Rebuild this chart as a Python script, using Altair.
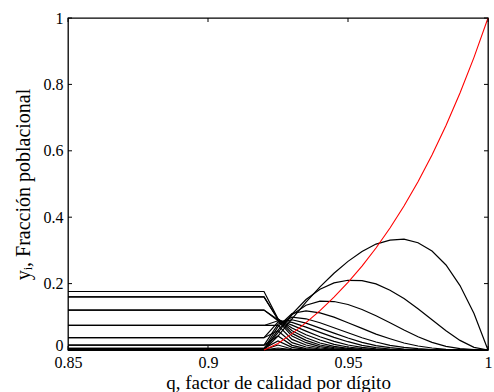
import altair as alt
import pandas as pd

# ---- data ----
q_flat = [0.85, 0.92]
q_grid = [0.925, 0.93, 0.935, 0.94, 0.945, 0.95, 0.955, 0.96,
          0.965, 0.97, 0.975, 0.98, 0.985, 0.99, 0.995, 1.0]

# plateau levels below the error threshold (classes 1..20)
flat_levels = [0.00002, 0.00018, 0.0011, 0.0046, 0.0148, 0.0370, 0.0739,
               0.1201, 0.1602, 0.1762, 0.1602, 0.1201, 0.0739, 0.0370,
               0.0148, 0.0046, 0.0011, 0.00018, 0.00002, 0.0]

y01 = [0.042, 0.094, 0.144, 0.190, 0.231, 0.267, 0.297, 0.319, 0.331, 0.334, 0.323, 0.298, 0.256, 0.194, 0.110, 0.0]
y02 = [0.052, 0.108, 0.152, 0.183, 0.202, 0.210, 0.209, 0.199, 0.180, 0.155, 0.124, 0.091, 0.058, 0.029, 0.008, 0.0]
y03 = [0.060, 0.106, 0.135, 0.147, 0.146, 0.137, 0.122, 0.103, 0.082, 0.060, 0.040, 0.023, 0.011, 0.004, 0.001, 0.0]
y04 = [0.070, 0.110, 0.118, 0.112, 0.099, 0.082, 0.065, 0.048, 0.034, 0.021, 0.012, 0.006, 0.002, 0.001, 0.0, 0.0]
y05 = [0.078, 0.099, 0.094, 0.082, 0.067, 0.052, 0.037, 0.024, 0.014, 0.008, 0.004, 0.001, 0.0, 0.0, 0.0, 0.0]
y06 = [0.084, 0.091, 0.081, 0.066, 0.051, 0.036, 0.023, 0.013, 0.007, 0.003, 0.001, 0.0, 0.0, 0.0, 0.0, 0.0]
y07 = [0.088, 0.083, 0.069, 0.053, 0.038, 0.025, 0.014, 0.007, 0.003, 0.001, 0.0, 0.0, 0.0, 0.0, 0.0, 0.0]
y08 = [0.091, 0.075, 0.057, 0.040, 0.026, 0.015, 0.008, 0.0035, 0.0014, 0.0005, 0.0, 0.0, 0.0, 0.0, 0.0, 0.0]
y09 = [0.093, 0.066, 0.046, 0.030, 0.017, 0.009, 0.004, 0.0015, 0.0005, 0.0, 0.0, 0.0, 0.0, 0.0, 0.0, 0.0]
y10 = [0.094, 0.058, 0.037, 0.021, 0.011, 0.005, 0.002, 0.0006, 0.0, 0.0, 0.0, 0.0, 0.0, 0.0, 0.0, 0.0]
y11 = [0.092, 0.050, 0.029, 0.015, 0.007, 0.003, 0.001, 0.0, 0.0, 0.0, 0.0, 0.0, 0.0, 0.0, 0.0, 0.0]
y12 = [0.088, 0.042, 0.022, 0.010, 0.004, 0.0015, 0.0005, 0.0, 0.0, 0.0, 0.0, 0.0, 0.0, 0.0, 0.0, 0.0]
y13 = [0.074, 0.032, 0.015, 0.006, 0.002, 0.0007, 0.0, 0.0, 0.0, 0.0, 0.0, 0.0, 0.0, 0.0, 0.0, 0.0]
y14 = [0.058, 0.022, 0.009, 0.003, 0.001, 0.0, 0.0, 0.0, 0.0, 0.0, 0.0, 0.0, 0.0, 0.0, 0.0, 0.0]
y15 = [0.042, 0.014, 0.004, 0.0012, 0.0, 0.0, 0.0, 0.0, 0.0, 0.0, 0.0, 0.0, 0.0, 0.0, 0.0, 0.0]
y16 = [0.027, 0.008, 0.002, 0.0, 0.0, 0.0, 0.0, 0.0, 0.0, 0.0, 0.0, 0.0, 0.0, 0.0, 0.0, 0.0]
y17 = [0.015, 0.003, 0.001, 0.0, 0.0, 0.0, 0.0, 0.0, 0.0, 0.0, 0.0, 0.0, 0.0, 0.0, 0.0, 0.0]
y18 = [0.006, 0.001, 0.0, 0.0, 0.0, 0.0, 0.0, 0.0, 0.0, 0.0, 0.0, 0.0, 0.0, 0.0, 0.0, 0.0]
y19 = [0.002, 0.0, 0.0, 0.0, 0.0, 0.0, 0.0, 0.0, 0.0, 0.0, 0.0, 0.0, 0.0, 0.0, 0.0, 0.0]
y20 = [0.0005, 0.0, 0.0, 0.0, 0.0, 0.0, 0.0, 0.0, 0.0, 0.0, 0.0, 0.0, 0.0, 0.0, 0.0, 0.0]

master_q = [0.92] + q_grid
master_y = [0.0, 0.0196, 0.0492, 0.0823, 0.1186, 0.159, 0.2036, 0.2528, 0.3072,
            0.3673, 0.4336, 0.5068, 0.5873, 0.6761, 0.7739, 0.8815, 1.0]

x_ticks = [0.85, 0.9, 0.95, 1.0]
y_ticks = [0.0, 0.2, 0.4, 0.6, 0.8, 1.0]

x_title = "q, factor de calidad por dígito"
y_title = "yᵢ, Fracción poblacional"

# ---- build tables ----
classes = [y01, y02, y03, y04, y05, y06, y07, y08, y09, y10,
           y11, y12, y13, y14, y15, y16, y17, y18, y19, y20]
rows = []
for k, (lvl, vals) in enumerate(zip(flat_levels, classes), start=1):
    order = 0
    for q in q_flat:
        rows.append({"q": q, "y": lvl, "serie": f"y{k}", "o": order}); order += 1
    for q, v in zip(q_grid, vals):
        rows.append({"q": q, "y": v, "serie": f"y{k}", "o": order}); order += 1
df_black = pd.DataFrame(rows)
df_red = pd.DataFrame({"q": master_q, "y": master_y, "o": list(range(len(master_q)))})
df_xt = pd.DataFrame({"v": x_ticks})
df_yt = pd.DataFrame({"v": y_ticks})

W, H = 420, 332
FONT = "Liberation Serif"

xs = alt.Scale(domain=[0.85, 1.0], nice=False, zero=False)
ys = alt.Scale(domain=[0.0, 1.0], nice=False, zero=False)

x_axis = alt.Axis(values=x_ticks, format="~g", title=x_title, ticks=False, domain=False,
                  grid=False, labelFont=FONT, labelFontSize=16, labelColor="black",
                  labelPadding=4, titleFont=FONT, titleFontSize=19, titleFontWeight="normal",
                  titleColor="black", titlePadding=3, labelFlush=False)
y_axis = alt.Axis(values=y_ticks, format="~g", title=y_title, ticks=False, domain=False,
                  grid=False, labelFont=FONT, labelFontSize=16, labelColor="black",
                  labelPadding=5, titleFont=FONT, titleFontSize=20, titleFontWeight="normal",
                  titleColor="black", titlePadding=10, labelFlush=False,
                  labelOffset={"condition": {"test": "datum.value == 0", "value": -5}, "value": 0})

black = alt.Chart(df_black).mark_line(color="black", strokeWidth=1.2).encode(
    x=alt.X("q:Q", scale=xs, axis=x_axis),
    y=alt.Y("y:Q", scale=ys, axis=y_axis),
    detail="serie:N",
    order="o:Q",
)
red = alt.Chart(df_red).mark_line(color="#ff0000", strokeWidth=1.1).encode(
    x=alt.X("q:Q", scale=xs),
    y=alt.Y("y:Q", scale=ys),
    order="o:Q",
)

tk = 4
t_bottom = alt.Chart(df_xt).mark_rule(color="black", strokeWidth=1).encode(
    x=alt.X("v:Q", scale=xs), y=alt.value(H), y2=alt.value(H - tk))
t_top = alt.Chart(df_xt).mark_rule(color="black", strokeWidth=1).encode(
    x=alt.X("v:Q", scale=xs), y=alt.value(0), y2=alt.value(tk))
t_left = alt.Chart(df_yt).mark_rule(color="black", strokeWidth=1).encode(
    y=alt.Y("v:Q", scale=ys), x=alt.value(0), x2=alt.value(tk))
t_right = alt.Chart(df_yt).mark_rule(color="black", strokeWidth=1).encode(
    y=alt.Y("v:Q", scale=ys), x=alt.value(W), x2=alt.value(W - tk))

chart = alt.layer(black, red, t_bottom, t_top, t_left, t_right).properties(
    width=W, height=H,
    autosize="none",
    padding={"left": 68, "top": 18, "right": 6, "bottom": 42},
    background="white",
).configure_view(stroke="black", strokeWidth=1.3).configure_axis(
    labelFont=FONT, titleFont=FONT
)

chart.save("out.html", embed_options={"renderer": "svg", "actions": False})
